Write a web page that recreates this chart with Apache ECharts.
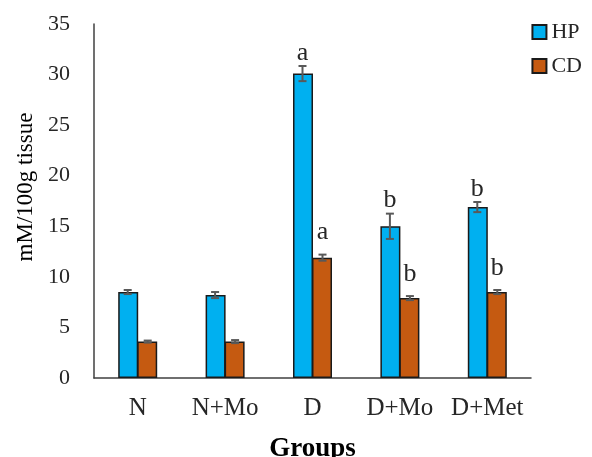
<!DOCTYPE html>
<html><head><meta charset="utf-8">
<script src="https://cdn.jsdelivr.net/npm/echarts@6/dist/echarts.min.js"></script>
<style>html,body{margin:0;padding:0;background:#fff}#c{width:592px;height:457px}</style>
</head><body><div id="c"></div>
<script>
const categories = ['N', 'N+Mo', 'D', 'D+Mo', 'D+Met'];
const hpValues = [8.5, 8.2, 30.1, 15.0, 16.9];
const hpErrors = [0.2, 0.3, 0.75, 1.25, 0.5];
const hpLetters = ['', '', 'a', 'b', 'b'];
const cdValues = [3.6, 3.6, 11.9, 7.9, 8.5];
const cdErrors = [0.1, 0.15, 0.3, 0.2, 0.2];
const cdLetters = ['', '', 'a', 'b', 'b'];
const yTicks = [0, 5, 10, 15, 20, 25, 30, 35];

const FONT = '"Liberation Serif", "Times New Roman", serif';
const BAR_W = 20;

function errSeries(name, values, errors, letters, offset, letterGap) {
  return {
    type: 'custom',
    name: name + ' err',
    z: 5,
    data: values.map((v, i) => [i, v, errors[i]]),
    renderItem: function (params, api) {
      const i = api.value(0), v = api.value(1), e = api.value(2);
      const top = api.coord([i, v + e]);
      const bot = api.coord([i, v - e]);
      const x = top[0] + offset;
      const cap = 4;
      const st = { stroke: '#595959', lineWidth: 2 };
      const children = [
        { type: 'line', shape: { x1: x, y1: top[1], x2: x, y2: bot[1] }, style: st },
        { type: 'line', shape: { x1: x - cap, y1: top[1], x2: x + cap, y2: top[1] }, style: st },
        { type: 'line', shape: { x1: x - cap, y1: bot[1], x2: x + cap, y2: bot[1] }, style: st }
      ];
      const letter = letters[i];
      if (letter) {
        children.push({
          type: 'text',
          style: { text: letter, x: x, y: top[1] - letterGap, align: 'center', verticalAlign: 'bottom',
                   font: '26px ' + FONT, fill: '#262626' }
        });
      }
      return { type: 'group', children: children };
    }
  };
}

const chart = echarts.init(document.getElementById('c'));
chart.setOption({
  animation: false,
  backgroundColor: '#fff',
  textStyle: { fontFamily: FONT },
  grid: { left: 94, right: 61, top: 24, bottom: 79, containLabel: false, outerBoundsMode: 'none' },
  legend: {
    orient: 'vertical',
    right: 5,
    top: 16,
    itemWidth: 14,
    itemHeight: 14,
    itemGap: 12,
    icon: 'rect',
    textStyle: { fontFamily: FONT, fontSize: 22, color: '#262626' },
    data: ['HP', 'CD']
  },
  xAxis: {
    type: 'category',
    data: categories,
    name: 'Groups',
    nameLocation: 'middle',
    nameGap: 58,
    nameTextStyle: { fontFamily: FONT, fontSize: 27, fontWeight: 'bold', color: '#000' },
    axisLine: { lineStyle: { color: '#404040', width: 1.5 } },
    axisTick: { show: false },
    axisLabel: { fontFamily: FONT, fontSize: 25, color: '#262626', margin: 18, interval: 0, hideOverlap: false }
  },
  yAxis: {
    type: 'value',
    min: 0, max: 35, interval: 5,
    name: 'mM/100g tissue',
    nameLocation: 'middle',
    nameGap: 57,
    nameTextStyle: { fontFamily: FONT, fontSize: 23, color: '#000', padding: [0, 0, 0, 28] },
    axisLine: { show: true, lineStyle: { color: '#404040', width: 1.5 } },
    axisTick: { show: false },
    splitLine: { show: false },
    axisLabel: { fontFamily: FONT, fontSize: 22, color: '#262626', margin: 24,
      formatter: v => yTicks.includes(v) ? String(v) : '' }
  },
  series: [
    { name: 'HP', type: 'bar', data: hpValues, barWidth: BAR_W, barGap: '-5%',
      itemStyle: { color: '#00B0F0', borderColor: '#1a1a1a', borderWidth: 1.5 } },
    { name: 'CD', type: 'bar', data: cdValues, barWidth: BAR_W, barGap: '-5%',
      itemStyle: { color: '#C55A11', borderColor: '#1a1a1a', borderWidth: 1.5 } },
    errSeries('HP', hpValues, hpErrors, hpLetters, -BAR_W / 2, 0),
    errSeries('CD', cdValues, cdErrors, cdLetters, BAR_W / 2, 9)
  ]
});
</script></body></html>
